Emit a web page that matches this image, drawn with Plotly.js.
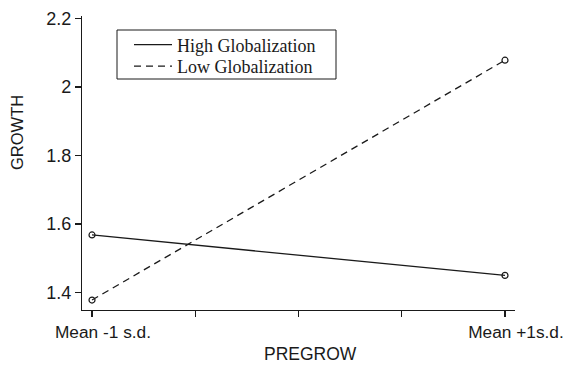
<!DOCTYPE html>
<html>
<head>
<meta charset="utf-8">
<script src="https://cdn.plot.ly/plotly-3.0.1.min.js"></script>
<style>html,body{margin:0;padding:0;background:#fff;}#chart{width:564px;height:370px;}</style>
</head>
<body>
<div id="chart"></div>
<script>
// Data
var xPositions = [0, 4];
var tickPositions = [0, 1, 2, 3, 4];
var tickLabels = ["Mean -1 s.d.", "", "", "", "Mean +1s.d."];
var seriesNames = ["High Globalization", "Low Globalization"];
var highGlobalization = [1.568, 1.450];
var lowGlobalization = [1.378, 2.078];
var yTickVals = [1.4, 1.6, 1.8, 2, 2.2];
var yTickText = ["1.4", "1.6", "1.8", "2", "2.2"];

var ink = "#1a1a1a";
var W = 564, H = 370, ML = 82, MR = 49, MT = 16, MB = 60;
var plotW = W - ML - MR, plotH = H - MT - MB;
function px(xp) { return (xp - ML) / plotW; }
function py(yp) { return (H - MB - yp) / plotH; }

var markerStyle = {symbol: "circle-open", size: 6, color: ink, line: {width: 1.2, color: ink}};
var traces = [
  {x: xPositions, y: highGlobalization, name: seriesNames[0], type: "scatter", mode: "lines",
   line: {color: ink, width: 1.3, dash: "solid"}, legend: "legend"},
  {x: xPositions, y: lowGlobalization, name: seriesNames[1], type: "scatter", mode: "lines",
   line: {color: ink, width: 1.3, dash: "7px,5px"}, legend: "legend2"},
  {x: xPositions, y: highGlobalization, name: seriesNames[0], type: "scatter", mode: "markers",
   marker: markerStyle, showlegend: false},
  {x: xPositions, y: lowGlobalization, name: seriesNames[1], type: "scatter", mode: "markers",
   marker: markerStyle, showlegend: false}
];

var legendFont = {family: "Liberation Serif, Times New Roman, serif", size: 18, color: ink};
function legendAt(yp) {
  return {
    x: px(129), y: py(yp), xref: "paper", yref: "paper", xanchor: "left", yanchor: "middle",
    borderwidth: 0, bgcolor: "rgba(0,0,0,0)", font: legendFont, itemwidth: 38
  };
}

var layout = {
  width: W, height: H,
  margin: {l: ML, r: MR, t: MT, b: MB, pad: 0},
  paper_bgcolor: "#fff", plot_bgcolor: "#fff",
  font: {family: "Liberation Sans, Arial, sans-serif", size: 17, color: ink},
  showlegend: true,
  legend: legendAt(45),
  legend2: legendAt(66.5),
  xaxis: {
    range: [-0.097, 4.097], tickmode: "array", tickvals: tickPositions, ticktext: tickLabels,
    showline: true, linecolor: ink, linewidth: 1.2, showgrid: false, zeroline: false,
    ticks: "outside", ticklen: 6, tickwidth: 1.2, tickcolor: ink,
    tickfont: {size: 17.3, color: ink}, ticklabelshift: 11, ticklabeloverflow: "allow",
    fixedrange: true
  },
  yaxis: {
    range: [1.349, 2.207], tickmode: "array", tickvals: yTickVals, ticktext: yTickText,
    showline: true, linecolor: ink, linewidth: 1.2, showgrid: false, zeroline: false,
    ticks: "outside", ticklen: 6, tickwidth: 1.2, tickcolor: ink,
    tickfont: {size: 18, color: ink},
    fixedrange: true
  },
  shapes: [
    {type: "rect", xref: "paper", yref: "paper", x0: px(117), x1: px(336), y0: py(30), y1: py(79),
     line: {color: ink, width: 1}, fillcolor: "rgba(0,0,0,0)", layer: "above"}
  ],
  annotations: [
    {text: "GROWTH", xref: "paper", yref: "paper", x: 0, y: py(133), xanchor: "center", yanchor: "middle",
     xshift: 17 - ML, textangle: -90, showarrow: false, font: {size: 16.5, color: ink}},
    {text: "PREGROW", xref: "paper", yref: "paper", x: px(310), y: py(354), xanchor: "center", yanchor: "middle",
     showarrow: false, font: {size: 17.5, color: ink}}
  ]
};

Plotly.newPlot("chart", traces, layout, {displayModeBar: false, staticPlot: true});
</script>
</body>
</html>
